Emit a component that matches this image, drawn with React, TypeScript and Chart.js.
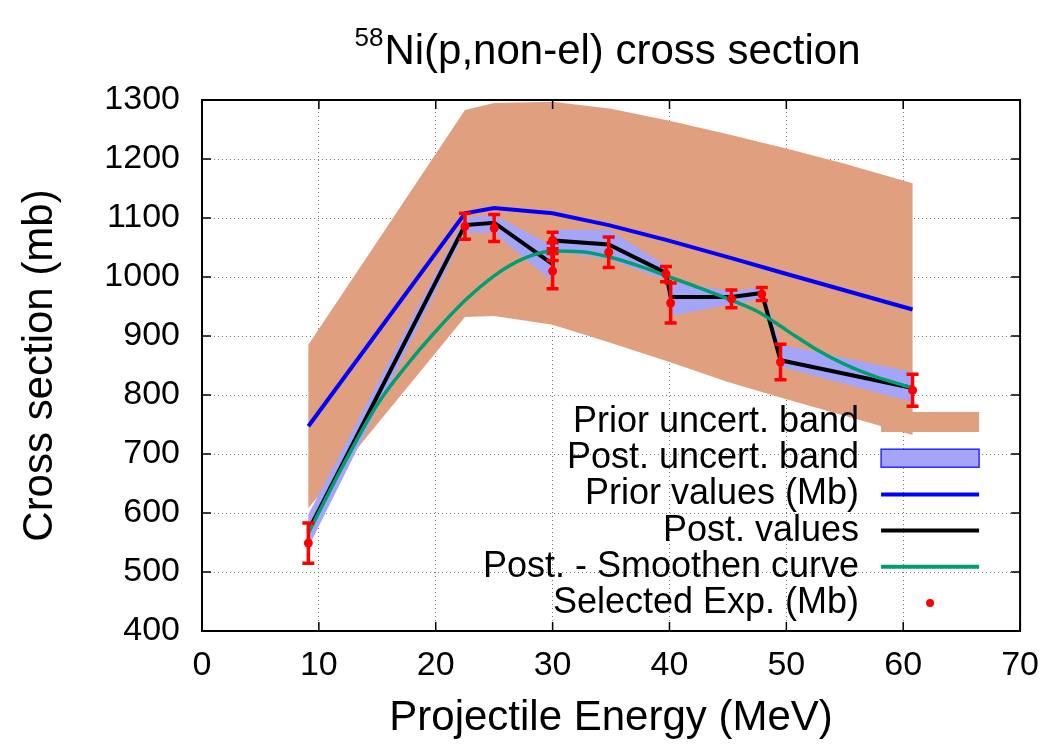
import React, { useEffect, useRef } from "react";
import { Chart, registerables } from "chart.js";

Chart.register(...registerables);

const FONT = "'Liberation Sans', Arial, Helvetica, sans-serif";

const xTickValues = [0, 10, 20, 30, 40, 50, 60, 70];
const yTickValues = [400, 500, 600, 700, 800, 900, 1000, 1100, 1200, 1300];

// Prior uncertainty band
const bandX = [9.1, 22.5, 25, 30, 35, 40, 45, 50, 55, 60.8];
const priorBandUpper = [885, 1283, 1295, 1297, 1285, 1265, 1242, 1218, 1192, 1159];
const priorBandLower = [608, 932, 934, 919, 888, 856, 822, 793, 765, 732];

// Prior values
const priorX = [9.1, 22.5, 25, 30, 34.8, 39.7, 45.3, 49.5, 60.8];
const priorValues = [747, 1108, 1117, 1108, 1088, 1063, 1032, 1008, 945];

// Posterior values and band
const postX = [9.1, 22.5, 25, 30, 30, 34.8, 39.7, 40.1, 45.3, 47.9, 49.5, 60.8];
const postValues = [570, 1088, 1092, 1022, 1062, 1055, 1007, 966, 966, 973, 859, 812];
const postUpper = [598, 1100, 1105, 1052, 1080, 1080, 1019, 992, 976, 983, 885, 839];
const postLower = [542, 1075, 1075, 992, 1044, 1030, 995, 934, 954, 963, 848, 788];

// Smoothed posterior curve
const smoothX = [9.1, 12, 15, 17.5, 20, 22.5, 25, 27.5, 30, 32.5, 35, 37.5, 40, 42.5, 45, 47.5, 50, 52.5, 55, 57.5, 60.8];
const smoothValues = [566, 678, 784, 850, 908, 960, 1002, 1031, 1044, 1043, 1033, 1018, 1000, 982, 963, 942, 910, 878, 852, 832, 812];

// Selected experimental data
const expX = [9.1, 22.5, 25, 30, 30, 30, 34.8, 39.7, 40.1, 45.3, 47.9, 49.5, 60.8];
const expValues = [549, 1086, 1083, 1062, 1043, 1010, 1042, 1005, 956, 963, 971, 856, 808];
const expErrors = [34, 22, 23, 14, 15, 30, 26, 13, 34, 15, 11, 30, 27];

const legendLabels = [
  "Prior uncert. band",
  "Post. uncert. band",
  "Prior values (Mb)",
  "Post. values",
  "Post. - Smoothen curve",
  "Selected Exp. (Mb)",
];

const C_PRIOR_BAND = "#e0a080";
const C_POST_BAND = "#a4a4f8";
const C_PRIOR = "#0000ff";
const C_POST = "#000000";
const C_SMOOTH = "#009e73";
const C_EXP = "#ff0000";

const pts = (xs: number[], ys: number[]) => xs.map((x, i) => ({ x, y: ys[i] }));
const polygon = (xs: number[], up: number[], lo: number[]) =>
  pts(xs, up).concat(pts(xs, lo).reverse());

const decor = {
  id: "decor",
  afterDatasetsDraw(chart: any) {
    const { ctx, chartArea: a, scales } = chart;
    const x = scales.x;
    const y = scales.y;
    ctx.save();
    // error bars
    ctx.strokeStyle = C_EXP;
    ctx.lineWidth = 3.5;
    ctx.lineCap = "butt";
    expX.forEach((xv, i) => {
      const px = x.getPixelForValue(xv);
      const pt = y.getPixelForValue(expValues[i] + expErrors[i]);
      const pb = y.getPixelForValue(expValues[i] - expErrors[i]);
      ctx.beginPath();
      ctx.moveTo(px, pt);
      ctx.lineTo(px, pb);
      ctx.moveTo(px - 6, pt);
      ctx.lineTo(px + 6, pt);
      ctx.moveTo(px - 6, pb);
      ctx.lineTo(px + 6, pb);
      ctx.stroke();
    });
    // border
    ctx.strokeStyle = "#000";
    ctx.lineWidth = 2;
    ctx.strokeRect(a.left, a.top, a.right - a.left, a.bottom - a.top);
    // inward ticks
    ctx.lineWidth = 1.5;
    ctx.beginPath();
    xTickValues.forEach((v) => {
      const px = x.getPixelForValue(v);
      ctx.moveTo(px, a.bottom);
      ctx.lineTo(px, a.bottom - 9);
      ctx.moveTo(px, a.top);
      ctx.lineTo(px, a.top + 9);
    });
    yTickValues.forEach((v) => {
      const py = y.getPixelForValue(v);
      ctx.moveTo(a.left, py);
      ctx.lineTo(a.left + 9, py);
      ctx.moveTo(a.right, py);
      ctx.lineTo(a.right - 9, py);
    });
    ctx.stroke();
    ctx.restore();
  },
  afterDraw(chart: any) {
    const { ctx, chartArea: a } = chart;
    ctx.save();
    // legend
    const textRight = a.right - 161;
    const sL = a.right - 139;
    const sR = a.right - 41;
    const row0 = a.top + 322;
    const dy = 36.2;
    ctx.font = `36px ${FONT}`;
    ctx.fillStyle = "#000";
    ctx.textAlign = "right";
    ctx.textBaseline = "middle";
    legendLabels.forEach((t, i) => {
      ctx.fillText(t, textRight, row0 + i * dy);
    });
    // samples
    ctx.fillStyle = C_PRIOR_BAND;
    ctx.fillRect(sL, row0 - 10, sR - sL, 20);
    ctx.fillStyle = C_POST_BAND;
    ctx.fillRect(sL, row0 + dy - 9, sR - sL, 18);
    ctx.strokeStyle = "#2a2aff";
    ctx.lineWidth = 1.5;
    ctx.strokeRect(sL, row0 + dy - 9, sR - sL, 18);
    ctx.lineWidth = 4;
    [C_PRIOR, C_POST, C_SMOOTH].forEach((c, k) => {
      const yy = row0 + (k + 2) * dy;
      ctx.strokeStyle = c;
      ctx.beginPath();
      ctx.moveTo(sL, yy);
      ctx.lineTo(sR, yy);
      ctx.stroke();
    });
    ctx.fillStyle = C_EXP;
    ctx.beginPath();
    ctx.arc((sL + sR) / 2, row0 + 5 * dy, 4, 0, Math.PI * 2);
    ctx.fill();

    // title with superscript
    ctx.fillStyle = "#000";
    ctx.textAlign = "left";
    ctx.textBaseline = "alphabetic";
    const main = "Ni(p,non-el) cross section";
    ctx.font = `26px ${FONT}`;
    const supW = ctx.measureText("58").width;
    ctx.font = `42px ${FONT}`;
    const mainW = ctx.measureText(main).width;
    const cx = (a.left + a.right) / 2 - 4;
    const start = cx - (supW + mainW) / 2;
    ctx.font = `26px ${FONT}`;
    ctx.fillText("58", start, 46);
    ctx.font = `42px ${FONT}`;
    ctx.fillText(main, start + supW + 1, 64);

    // axis titles
    ctx.textAlign = "center";
    ctx.textBaseline = "middle";
    ctx.font = `42px ${FONT}`;
    ctx.fillText("Projectile Energy (MeV)", (a.left + a.right) / 2, 718);
    ctx.save();
    ctx.translate(40, (a.top + a.bottom) / 2);
    ctx.rotate(-Math.PI / 2);
    ctx.fillText("Cross section (mb)", 0, 0);
    ctx.restore();
    ctx.restore();
  },
};

export default function App() {
  const ref = useRef<HTMLCanvasElement | null>(null);
  useEffect(() => {
    if (!ref.current) return;
    const chart = new Chart(ref.current, {
      type: "line",
      data: {
        datasets: [
          {
            label: "Prior uncert. band",
            data: polygon(bandX, priorBandUpper, priorBandLower),
            fill: "shape",
            backgroundColor: C_PRIOR_BAND,
            borderColor: "rgba(0,0,0,0)",
            borderWidth: 0,
            pointRadius: 0,
            order: 5,
          },
          {
            label: "Post. uncert. band",
            data: polygon(postX, postUpper, postLower),
            fill: "shape",
            backgroundColor: C_POST_BAND,
            borderColor: "rgba(0,0,0,0)",
            borderWidth: 0,
            pointRadius: 0,
            order: 4,
          },
          {
            label: "Prior values (Mb)",
            data: pts(priorX, priorValues),
            borderColor: C_PRIOR,
            borderWidth: 4,
            pointRadius: 0,
            fill: false,
            order: 3,
          },
          {
            label: "Post. values",
            data: pts(postX, postValues),
            borderColor: C_POST,
            borderWidth: 4,
            pointRadius: 0,
            fill: false,
            order: 2,
          },
          {
            label: "Post. - Smoothen curve",
            data: pts(smoothX, smoothValues),
            borderColor: C_SMOOTH,
            borderWidth: 3.5,
            pointRadius: 0,
            cubicInterpolationMode: "monotone",
            fill: false,
            order: 1,
          },
          {
            label: "Selected Exp. (Mb)",
            data: pts(expX, expValues),
            showLine: false,
            pointRadius: 4.5,
            pointBackgroundColor: C_EXP,
            pointBorderWidth: 0,
            borderColor: C_EXP,
            fill: false,
            order: 0,
          },
        ],
      },
      options: {
        animation: false,
        responsive: true,
        maintainAspectRatio: false,
        layout: { padding: { left: 0, right: 32, top: 100, bottom: 0 } },
        plugins: {
          legend: { display: false },
          tooltip: { enabled: false },
          title: { display: false },
        },
        scales: {
          x: {
            type: "linear",
            min: 0,
            max: 70,
            ticks: {
              stepSize: 10,
              color: "#000",
              padding: 14,
              font: { family: FONT, size: 34 },
              maxRotation: 0,
              callback: (v: any) => String(v),
            },
            grid: { color: "#777", lineWidth: 1, drawTicks: false },
            border: { display: false, dash: [1, 3] },
            afterFit: (s: any) => {
              s.height = 115;
            },
          },
          y: {
            type: "linear",
            min: 400,
            max: 1300,
            ticks: {
              stepSize: 100,
              color: "#000",
              padding: 22,
              font: { family: FONT, size: 34 },
              callback: (v: any) => String(v),
            },
            grid: { color: "#777", lineWidth: 1, drawTicks: false },
            border: { display: false, dash: [1, 3] },
            afterFit: (s: any) => {
              s.width = 202;
            },
          },
        },
      },
      plugins: [decor],
    });
    return () => chart.destroy();
  }, []);
  return (
    <div style={{ position: "fixed", left: 0, top: 0, width: 1053, height: 746, background: "#fff" }}>
      <canvas ref={ref} />
    </div>
  );
}
